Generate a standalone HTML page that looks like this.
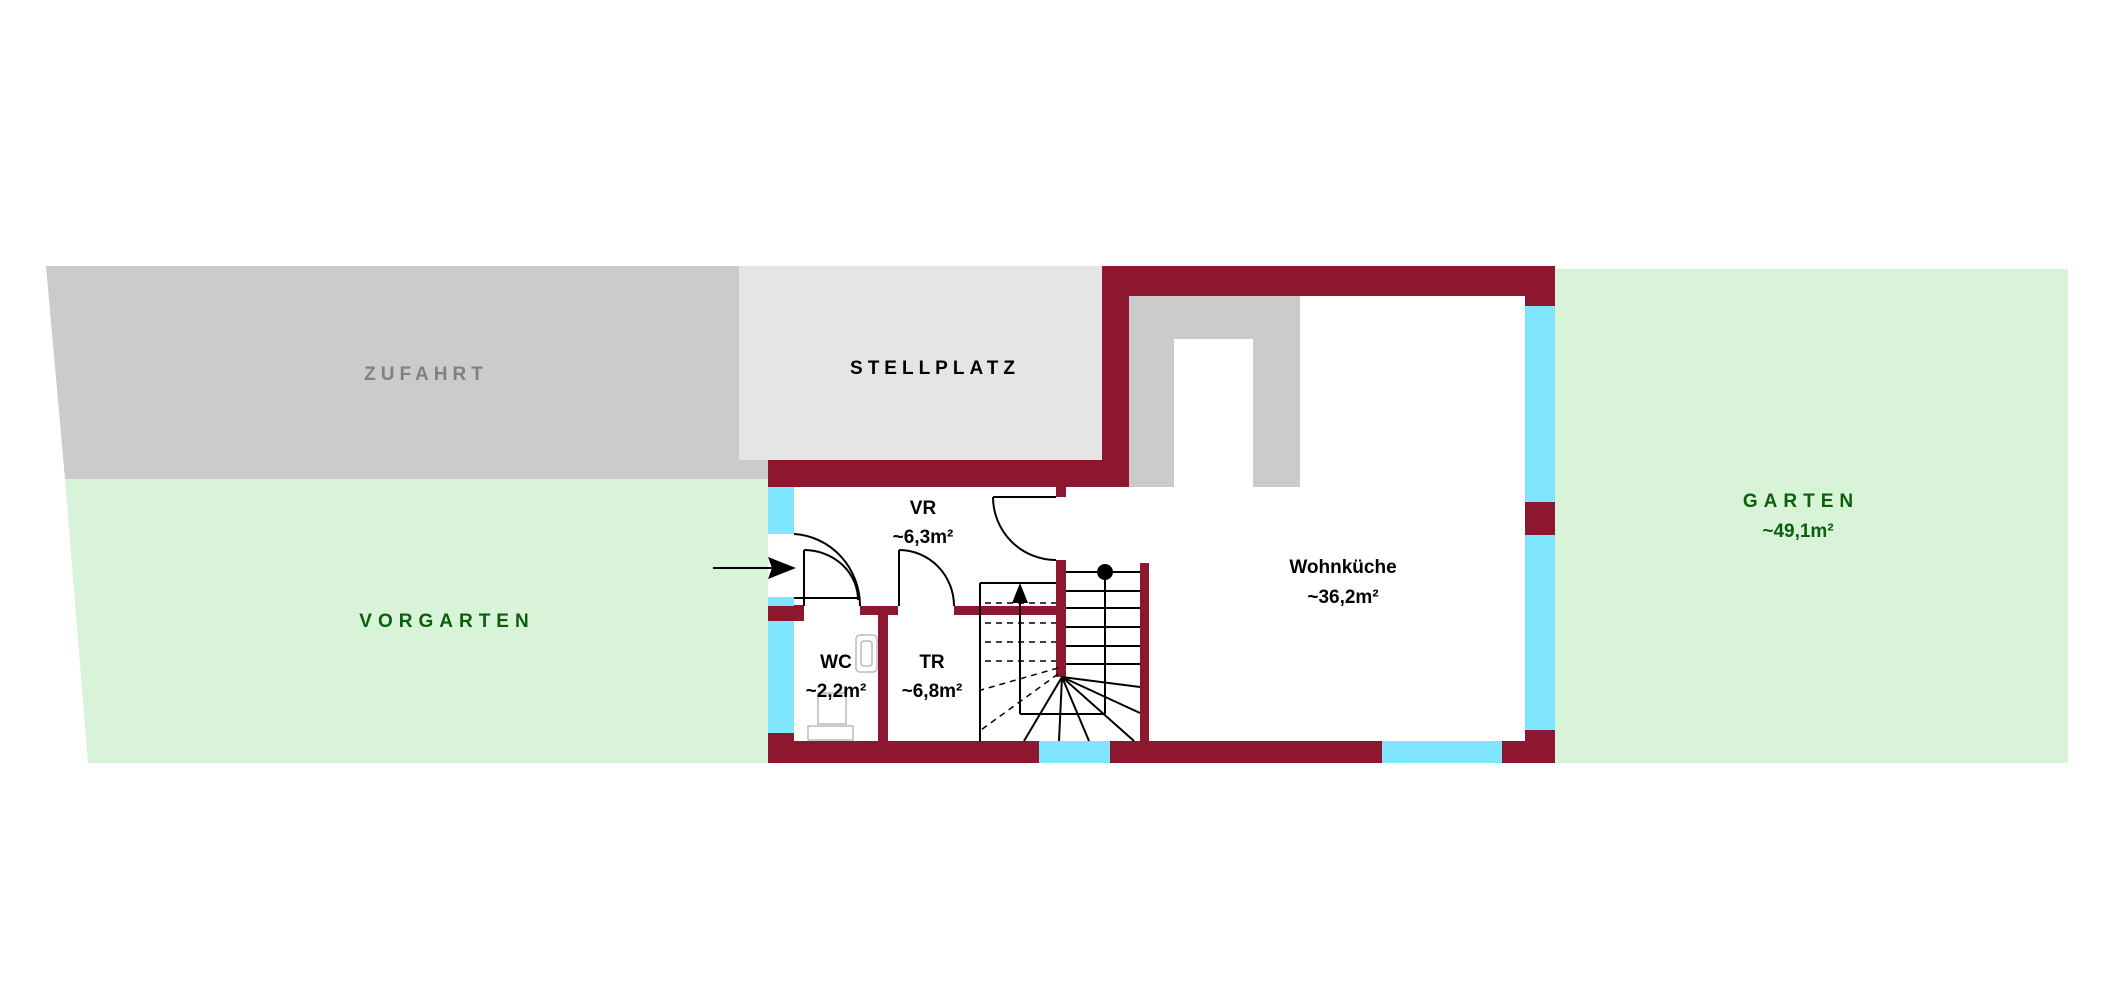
<!DOCTYPE html>
<html><head><meta charset="utf-8"><style>
html,body{margin:0;padding:0;background:#fff;}
svg{display:block;}
text{font-family:"Liberation Sans",sans-serif;font-weight:bold;}
</style></head><body>
<svg width="2125" height="1004" viewBox="0 0 2125 1004" xmlns="http://www.w3.org/2000/svg">
<!-- Zufahrt -->
<polygon points="46,266 768,266 768,479 65,479" fill="#cbcbcb"/>
<!-- Vorgarten -->
<polygon points="65,479 768,479 768,763 88,763" fill="#d8f3d8"/>
<!-- Stellplatz -->
<rect x="739" y="266" width="363" height="194" fill="#e5e5e5"/>
<!-- Garten -->
<rect x="1555" y="269" width="513" height="494" fill="#d8f3d8"/>
<!-- house interior -->
<rect x="768" y="460" width="787" height="303" fill="#fff"/>
<rect x="1102" y="266" width="453" height="230" fill="#fff"/>
<!-- gray inner -->
<rect x="1129" y="296" width="171" height="191" fill="#cbcbcb"/>
<rect x="1174" y="339" width="79" height="150" fill="#fff"/>
<g fill="#8e1730">
<rect x="1102" y="266" width="453" height="30"/>
<rect x="1102" y="266" width="27" height="221"/>
<rect x="768" y="460" width="361" height="27"/>
<rect x="1525" y="266" width="30" height="40"/>
<rect x="1525" y="502" width="30" height="33"/>
<rect x="1525" y="730" width="30" height="33"/>
<rect x="768" y="741" width="787" height="22"/>
<rect x="768" y="605" width="36" height="16"/>
<rect x="768" y="733" width="26" height="30"/>
<rect x="768" y="605" width="26" height="10"/>
<rect x="860" y="606" width="38" height="9"/>
<rect x="954" y="606" width="106" height="9"/>
<rect x="878" y="606" width="10" height="136"/>
<rect x="1056" y="560" width="10" height="117"/>
<rect x="1056" y="487" width="10" height="10"/>
<rect x="1140" y="563" width="9" height="180"/>
</g>
<g fill="#80e5ff">
<rect x="1525" y="306" width="30" height="196"/>
<rect x="1525" y="535" width="30" height="195"/>
<rect x="1039" y="741" width="71" height="22"/>
<rect x="1382" y="741" width="120" height="22"/>
<rect x="768" y="487" width="26" height="47"/>
<rect x="768" y="597" width="26" height="9"/>
<rect x="768" y="621" width="26" height="112"/>
</g>
<g fill="none" stroke="#000" stroke-width="2">
<polyline points="804,606 804,550"/>
<line x1="794" y1="598" x2="860" y2="598"/>
<path d="M794,534 A70,72 0 0 1 860,606"/>
<path d="M804,550 A54,50 0 0 1 858,600"/>
<line x1="899" y1="606" x2="899" y2="550"/>
<path d="M899,550 A55,56 0 0 1 954,606"/>
<line x1="993" y1="497" x2="1056" y2="497"/>
<path d="M993,497 A63,63 0 0 0 1056,560"/>
<line x1="1066" y1="572" x2="1140" y2="572"/>
<line x1="1066" y1="591" x2="1140" y2="591"/>
<line x1="1066" y1="608" x2="1140" y2="608"/>
<line x1="1066" y1="627" x2="1140" y2="627"/>
<line x1="1066" y1="646" x2="1140" y2="646"/>
<line x1="1066" y1="664" x2="1140" y2="664"/>
<line x1="1105" y1="572" x2="1105" y2="714"/>
<line x1="1020" y1="714" x2="1105" y2="714"/>
<line x1="1020" y1="600" x2="1020" y2="714"/>
<line x1="980" y1="583" x2="980" y2="741"/>
<line x1="980" y1="583" x2="1056" y2="583"/>
<line x1="1062" y1="677" x2="1024" y2="741"/>
<line x1="1062" y1="677" x2="1059" y2="741"/>
<line x1="1062" y1="677" x2="1089" y2="741"/>
<line x1="1062" y1="677" x2="1134" y2="741"/>
<line x1="1062" y1="677" x2="1140" y2="713"/>
<line x1="1062" y1="677" x2="1140" y2="687"/>
<line x1="713" y1="568" x2="775" y2="568"/>
</g>
<g stroke="#000" stroke-width="1.5" stroke-dasharray="6,5" fill="none">
<line x1="985" y1="603" x2="1056" y2="603"/>
<line x1="985" y1="623" x2="1056" y2="623"/>
<line x1="985" y1="642" x2="1056" y2="642"/>
<line x1="985" y1="661" x2="1056" y2="661"/>
<line x1="1058" y1="668" x2="981" y2="690"/>
<line x1="1058" y1="674" x2="981" y2="730"/>
</g>
<polygon points="1020,583 1012,603 1028,603" fill="#000"/>
<circle cx="1105" cy="572" r="8" fill="#000"/>
<polygon points="796,568 768,557 772,568 768,579" fill="#000"/>
<g fill="none" stroke="#bbb" stroke-width="1.5">
<rect x="856" y="635" width="21" height="37" rx="4"/>
<rect x="861" y="641" width="11" height="25" rx="3"/>
<rect x="818" y="693" width="28" height="31"/>
<rect x="808" y="726" width="45" height="14"/>
</g>
<g text-anchor="middle" font-size="19" fill="#000">
<text x="923" y="514">VR</text>
<text x="923" y="543">~6,3m²</text>
<text x="1343" y="573">Wohnküche</text>
<text x="1343" y="603">~36,2m²</text>
<text x="836" y="668">WC</text>
<text x="836" y="697">~2,2m²</text>
<text x="932" y="668">TR</text>
<text x="932" y="697">~6,8m²</text>
<text x="935" y="374" font-size="19" letter-spacing="5">STELLPLATZ</text>
<text x="426" y="380" font-size="19" letter-spacing="5" fill="#808080">ZUFAHRT</text>
<text x="447" y="627" font-size="19" letter-spacing="6" fill="#0a5f0a">VORGARTEN</text>
<text x="1801" y="507" font-size="19" letter-spacing="6" fill="#0a5f0a">GARTEN</text>
<text x="1798" y="537" font-size="19" fill="#0a5f0a">~49,1m²</text>
</g>
</svg>
</body></html>
